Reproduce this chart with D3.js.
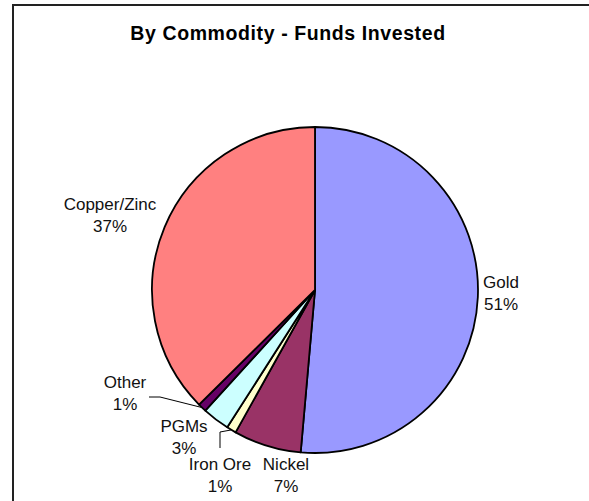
<!DOCTYPE html>
<html>
<head>
<meta charset="utf-8">
<script src="https://cdn.jsdelivr.net/npm/d3@7"></script>
<style>
  body { margin: 0; background: #fff; }
  svg { display: block; font-family: "Liberation Sans", Arial, sans-serif; }
</style>
</head>
<body>
<svg id="chart" width="589" height="501"></svg>
<script>
const categories = ["Gold", "Nickel", "Iron Ore", "PGMs", "Other", "Copper/Zinc"];
const shares = [51.4, 6.7, 0.95, 2.7, 0.85, 37.4];
const colors = ["#9999FF", "#993366", "#FFFFCC", "#CCFFFF", "#660066", "#FF8080"];
const title = "By Commodity - Funds Invested";

// where each label block sits (centre x, first baseline y)
const labelAt = {
    "Gold": [501, 288],
    "Nickel": [286, 470],
    "Iron Ore": [220, 470],
    "PGMs": [184, 432],
    "Other": [125, 388],
    "Copper/Zinc": [110, 210]
};
// leader lines go from slice edge to these points
const leaderTo = {
    "Other": [[160, 397], [149, 397]],
    "Iron Ore": [[220, 432], [220, 448]]
};

const svg = d3.select("#chart");
const cx = 315, cy = 290, radius = 163;

// outer frame (cut by the window on the right and bottom)
svg.append("rect")
    .attr("x", 13).attr("y", 5)
    .attr("width", 600).attr("height", 520)
    .attr("fill", "#fff")
    .attr("stroke", "#222")
    .attr("stroke-width", 2);

svg.append("text")
    .attr("x", 288).attr("y", 40)
    .attr("text-anchor", "middle")
    .attr("font-weight", "bold")
    .attr("font-size", 19.5)
    .attr("letter-spacing", 0.6)
    .text(title);

const data = categories.map((c, i) => ({ name: c, value: shares[i], color: colors[i] }));

const pie = d3.pie().sort(null).value(d => d.value);
const arcs = pie(data);
const arc = d3.arc().innerRadius(0).outerRadius(radius);

const g = svg.append("g").attr("transform", `translate(${cx},${cy})`);

g.selectAll("path")
    .data(arcs)
    .join("path")
    .attr("d", arc)
    .attr("fill", d => d.data.color)
    .attr("stroke", "#000")
    .attr("stroke-width", 1.8)
    .attr("stroke-linejoin", "round");

// leader lines
arcs.filter(d => leaderTo[d.data.name]).forEach(d => {
    const mid = (d.startAngle + d.endAngle) / 2;
    const start = [cx + radius * Math.sin(mid), cy - radius * Math.cos(mid)];
    svg.append("polyline")
        .attr("points", [start, ...leaderTo[d.data.name]].map(p => p.join(",")).join(" "))
        .attr("fill", "none")
        .attr("stroke", "#000")
        .attr("stroke-width", 1);
});

// labels
arcs.forEach(d => {
    const [x, y] = labelAt[d.data.name];
    const t = svg.append("text")
        .attr("text-anchor", "middle")
        .attr("font-size", 17)
        .attr("fill", "#111");
    t.append("tspan").attr("x", x).attr("y", y).text(d.data.name);
    t.append("tspan").attr("x", x).attr("y", y + 22).text(Math.round(d.data.value) + "%");
});
</script>
</body>
</html>
